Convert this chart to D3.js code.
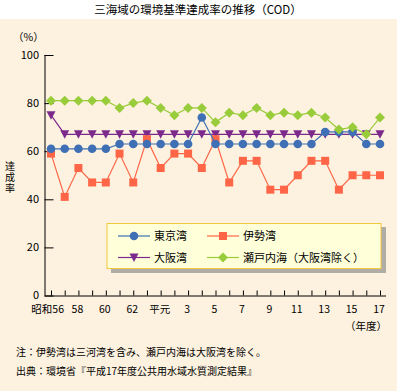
<!DOCTYPE html>
<html><head><meta charset="utf-8">
<script src="https://cdn.jsdelivr.net/npm/d3@7"></script>
<style>
html,body{margin:0;padding:0;background:#fff;}
text{font-family:"Noto Sans CJK JP","Noto Sans",sans-serif;}
</style></head>
<body>
<svg id="c" width="397" height="391"></svg>
<script>
const years = ["S56","S57","S58","S59","S60","S61","S62","S63","H1","H2","H3","H4","H5","H6","H7","H8","H9","H10","H11","H12","H13","H14","H15","H16","H17"];
const tickLabels = {"S56":"昭和56","S58":"58","S60":"60","S62":"62","H1":"平元","H3":"3","H5":"5","H7":"7","H9":"9","H11":"11","H13":"13","H15":"15","H17":"17"};
const tokyo = [61,61,61,61,61,63,63,63,63,63,63,74,63,63,63,63,63,63,63,63,68,68,68,63,63];
const ise   = [59,41,53,47,47,59,47,65,53,59,59,53,65,47,56,56,44,44,50,56,56,44,50,50,50];
const osaka = [75,67,67,67,67,67,67,67,67,67,67,67,67,67,67,67,67,67,67,67,67,67,67,67,67];
const seto  = [81,81,81,81,81,78,80,81,78,75,78,78,72,76,75,78,75,76,75,76,74,69,70,67,74];
const yTicks = [0,20,40,60,80,100];

const svg = d3.select("#c");
svg.append("rect").attr("x",0).attr("y",19).attr("width",397).attr("height",372).attr("fill","#fdf1df");
svg.append("text").attr("x",198).attr("y",14).attr("text-anchor","middle").attr("font-size",11.5).attr("fill","#000")
  .text("三海域の環境基準達成率の推移（COD）");

const x = d3.scalePoint().domain(years).range([51,380]);
const y = d3.scaleLinear().domain([0,100]).range([295.5,55]);
const X0 = 44.5;

// y axis
const ya = svg.append("g").attr("transform",`translate(${X0},0)`)
  .call(d3.axisRight(y).tickValues(yTicks).tickSize(9).tickFormat(""));
ya.select(".domain").attr("d",`M0.5,${y(100)}V${y(0)}`).attr("stroke","#000");
ya.selectAll(".tick line").attr("stroke","#000");
svg.append("g").selectAll("text").data(yTicks).join("text")
  .attr("x",39).attr("y",d=>y(d)+3.5).attr("text-anchor","end").attr("font-size",11).text(d=>d);

// x axis
const xa = svg.append("g").attr("transform",`translate(0,${y(0)})`)
  .call(d3.axisTop(x).tickSize(5).tickFormat(""));
xa.select(".domain").attr("d",`M${X0},0.5H386`).attr("stroke","#000");
xa.selectAll(".tick line").attr("stroke","#000");
svg.append("g").selectAll("text").data(years.filter(d=>tickLabels[d])).join("text")
  .attr("x",d=> d==="S56" ? x(d)+13 : x(d)-1).attr("y",313)
  .attr("text-anchor",d=> d==="S56" ? "end" : "middle").attr("font-size",10.5).text(d=>tickLabels[d]);

svg.append("text").attr("x",387).attr("y",330).attr("text-anchor","end").attr("font-size",10.5).text("（年度）");
svg.append("text").attr("x",13).attr("y",41).attr("font-size",10.5).text("（%）");
svg.append("text").attr("x",10).attr("y",161).attr("font-size",10).attr("letter-spacing",1)
  .style("writing-mode","vertical-rl").text("達成率");

svg.append("text").attr("x",16).attr("y",356).attr("font-size",10).text("注：伊勢湾は三河湾を含み、瀬戸内海は大阪湾を除く。");
svg.append("text").attr("x",16).attr("y",375).attr("font-size",10).text("出典：環境省『平成17年度公共用水域水質測定結果』");

const series = [
  {name:"大阪湾", vals:osaka, color:"#7b2a8c", shape:"tri"},
  {name:"伊勢湾", vals:ise, color:"#ff6647", shape:"sq"},
  {name:"東京湾", vals:tokyo, color:"#3f70b5", shape:"circ"},
  {name:"瀬戸内海（大阪湾除く）", vals:seto, color:"#99cc3a", shape:"dia"}
];
function marker(g, shape, color, cx, cy){
  if(shape==="circ") g.append("circle").attr("cx",cx).attr("cy",cy).attr("r",4.3).attr("fill",color);
  else if(shape==="sq") g.append("rect").attr("x",cx-4).attr("y",cy-4).attr("width",8).attr("height",8).attr("fill",color);
  else if(shape==="tri") g.append("path").attr("d",`M${cx-4.5},${cy-4}L${cx+4.5},${cy-4}L${cx},${cy+4.5}Z`).attr("fill",color);
  else g.append("path").attr("d",`M${cx},${cy-5}L${cx+5},${cy}L${cx},${cy+5}L${cx-5},${cy}Z`).attr("fill",color);
}
const line = d3.line().x((d,i)=>x(years[i])).y(d=>y(d));
series.forEach(s=>{
  const g = svg.append("g");
  g.append("path").attr("d",line(s.vals)).attr("fill","none").attr("stroke",s.color).attr("stroke-width",1.2);
  s.vals.forEach((v,i)=>marker(g,s.shape,s.color,x(years[i]),y(v)));
});

// legend
const lg = svg.append("g");
lg.append("rect").attr("x",111).attr("y",227).attr("width",275).attr("height",46).attr("fill","#b0aca6");
lg.append("rect").attr("x",107).attr("y",223.5).attr("width",274).attr("height",45).attr("fill","#ffffda").attr("stroke","#f2c840").attr("stroke-width",1);
const leg = [
  {s:series[2], lx:118, ly:236},
  {s:series[1], lx:207, ly:236},
  {s:series[0], lx:118, ly:257.5},
  {s:series[3], lx:207, ly:257.5}
];
leg.forEach(l=>{
  lg.append("line").attr("x1",l.lx).attr("x2",l.lx+32).attr("y1",l.ly).attr("y2",l.ly).attr("stroke",l.s.color).attr("stroke-width",1.2);
  marker(lg,l.s.shape,l.s.color,l.lx+16,l.ly);
  lg.append("text").attr("x",l.lx+36).attr("y",l.ly+4).attr("font-size",11).text(l.s.name);
});
</script>
</body></html>
